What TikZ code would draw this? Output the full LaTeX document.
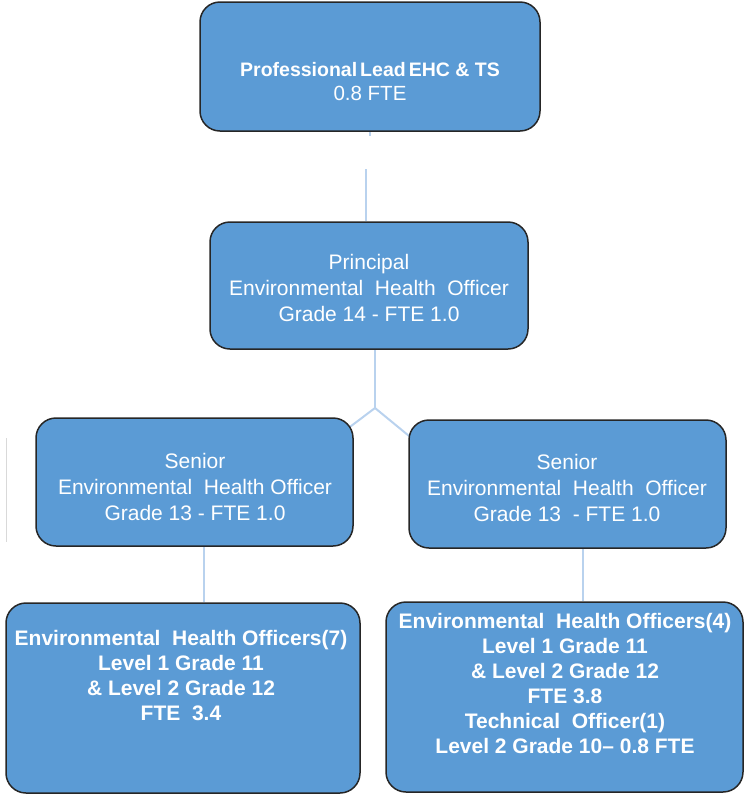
\documentclass[tikz,border=0pt]{standalone}
\usepackage{fontspec}
\setmainfont{Liberation Sans}
\usetikzlibrary{positioning,backgrounds}
\definecolor{boxblue}{RGB}{91,155,213}
\definecolor{boxedge}{RGB}{38,38,38}
\definecolor{linkblue}{RGB}{185,210,238}
\tikzset{
    post/.style={
        rectangle,
        draw=boxedge,
        fill=boxblue,
        line width=1.5pt,
        rounded corners=20pt,
        inner sep=0pt
    },
    txt/.style={
        text=white,
        align=center,
        inner sep=0pt,
        font=\fontsize{21}{26}\selectfont
    },
    txtb/.style={
        txt,
        font=\fontsize{21}{25}\selectfont\bfseries
    },
    link/.style={linkblue,line width=2pt}
}

\begin{document}
\begin{tikzpicture}[x=1pt,y=-1pt]
\useasboundingbox (0,0) rectangle (744,796);

% boxes
\node[post, minimum width=340, minimum height=129] (lead) at (370,66.5) {};
\node[post, minimum width=318, minimum height=127] (pri) at (369,285.5) {};
\node[post, minimum width=317, minimum height=128] (sen1) at (194.5,482) {};
\node[post, minimum width=317, minimum height=128] (sen2) at (567.5,484) {};
\node[post, minimum width=354, minimum height=190] (eho1) at (183,698) {};
\node[post, minimum width=357, minimum height=190] (eho2) at (564.5,697) {};

% texts
\node[txtb, font=\fontsize{19.5}{24}\selectfont\bfseries] (leadtxt) at (370,82)
    {Professional\hspace{3pt}Lead\hspace{3pt}EHC \& TS\\{\mdseries\fontsize{20.5}{24}\selectfont 0.8 FTE}};
\node[txt] (pritxt) at (369,288)
    {Principal\\Environmental\ \ Health\ \ Officer\\Grade 14 - FTE 1.0};
\node[txt] (sen1txt) at (195,487)
    {Senior\\Environmental\ \ Health Officer\\Grade 13 - FTE 1.0};
\node[txt] (sen2txt) at (567,487.5)
    {Senior\\Environmental\ \ Health\ \ Officer\\Grade 13\ \ - FTE 1.0};
\node[txtb] (eho1txt) at (181,675.5)
    {Environmental\ \ Health Officers(7)\\Level 1 Grade 11\\\& Level 2 Grade 12\\FTE\ \ 3.4};
\node[txtb] (eho2txt) at (565,683)
    {Environmental\ \ Health Officers(4)\\Level 1 Grade 11\\\& Level 2 Grade 12\\FTE 3.8\\Technical\ \ Officer(1)\\Level 2 Grade 10-- 0.8 FTE};

% connectors
\begin{pgfonlayer}{background}
\coordinate (stubend) at (370,136);
\coordinate (gaptop) at (366,169);
\coordinate (fork) at (375,408);
\coordinate (dropL) at (204,575);
\coordinate (dropR) at (583,575);
\draw[link] (lead.south -| stubend) -- (stubend);
\draw[link, line width=2.5pt] (gaptop) -- (gaptop |- pri.north);
\draw[link] (pri.south -| fork) -- (fork);
\draw[link, shorten >=-8pt] (fork) -- (sen1.20);
\draw[link, shorten >=-8pt] (fork) -- (sen2.163);
\draw[link] (dropL |- sen1.south) -- (dropL |- eho1.north);
\draw[link] (dropR |- sen2.south) -- (dropR |- eho2.north);
\end{pgfonlayer}

% faint edge at the left
\draw[black!15, line width=1pt] (6,438) -- (6,542);
\end{tikzpicture}
\end{document}
